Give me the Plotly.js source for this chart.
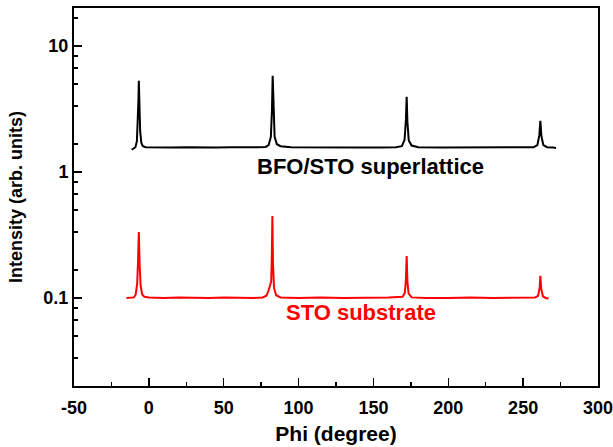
<!DOCTYPE html>
<html>
<head>
<meta charset="utf-8">
<script src="https://cdn.plot.ly/plotly-3.0.1.min.js"></script>
<style>html,body{margin:0;padding:0;background:#fff;}#chart{width:613px;height:447px;}</style>
</head>
<body>
<div id="chart"></div>
<script>
// BFO/STO superlattice phi scan
var bfoPhi = [-11.5,-10,-9,-8,-7.5,-7,-6.7,-6.3,-5.8,-5,-4,-2,5,15,25,35,45,55,65,72,78,80,81.5,82.2,82.7,83.2,84,85.5,88,95,110,125,140,155,165,169,170.8,171.7,172.2,172.7,173.6,175.5,180,195,210,225,240,252,257,259.5,260.8,261.5,262.2,263.5,266,270,272];
var bfoInt = [1.5,1.54,1.57,1.75,2.3,3.6,5.3,3.4,2.1,1.7,1.6,1.57,1.56,1.56,1.57,1.56,1.56,1.57,1.56,1.57,1.58,1.63,1.9,3.0,5.8,3.2,1.9,1.66,1.6,1.57,1.56,1.57,1.56,1.56,1.57,1.6,1.8,2.6,3.94,2.5,1.78,1.62,1.57,1.56,1.56,1.57,1.56,1.56,1.57,1.63,1.95,2.54,1.92,1.63,1.57,1.56,1.55];
// STO substrate phi scan
var stoPhi = [-15,-12,-10,-8.8,-7.8,-7.2,-6.7,-6.2,-5.5,-4.5,-3,0,10,20,30,40,50,60,70,76,78.5,80,81,81.7,82.1,82.5,82.9,83.6,85,88,100,115,130,145,160,169.5,171,171.7,172.2,172.7,173.5,175.5,185,200,215,230,245,258,260,261,261.5,262.1,263.2,265,267];
var stoInt = [0.1,0.1,0.101,0.106,0.13,0.2,0.334,0.19,0.125,0.107,0.102,0.101,0.1,0.101,0.1,0.1,0.101,0.1,0.1,0.101,0.104,0.115,0.126,0.135,0.2,0.447,0.19,0.12,0.105,0.101,0.1,0.101,0.1,0.1,0.101,0.102,0.11,0.14,0.215,0.135,0.108,0.101,0.1,0.1,0.101,0.1,0.1,0.101,0.104,0.12,0.15,0.118,0.103,0.1,0.099];
var yTickVals = [0.1, 1, 10];
var yTickText = ['0.1', '1', '10'];
var yMinorVals = [0.0333,0.05,0.0667,0.0833,0.1667,0.333,0.5,0.667,0.833,1.667,3.333,5,6.667,8.333,16.67];
var xTickVals = [-50,0,50,100,150,200,250,300];
var xTickText = ['-50','0','50','100','150','200','250','300'];
var xMinorVals = [-25,25,75,125,175,225,275];

var font = 'Liberation Sans, Arial, sans-serif';
function bold(arr) { return arr.map(function (s) { return '<b>' + s + '</b>'; }); }
var traces = [
  {x: bfoPhi, y: bfoInt, mode: 'lines', line: {color: '#000000', width: 2}, hoverinfo: 'skip'},
  {x: stoPhi, y: stoInt, mode: 'lines', line: {color: '#ff0000', width: 2}, hoverinfo: 'skip'}
];
var layout = {
  width: 613, height: 447,
  margin: {l: 74, r: 15, t: 8, b: 61},
  paper_bgcolor: '#fff', plot_bgcolor: '#fff',
  showlegend: false,
  font: {family: font, color: '#000'},
  xaxis: {
    range: [-50, 300], tickmode: 'array', tickvals: xTickVals, ticktext: bold(xTickText),
    ticks: 'inside', ticklen: 8, tickwidth: 1.5, tickcolor: '#000',
    minor: {tickmode: 'array', tickvals: xMinorVals, ticks: 'inside', ticklen: 4, tickwidth: 1.5, tickcolor: '#000', showgrid: false},
    showline: true, linewidth: 2, linecolor: '#000', mirror: true,
    showgrid: false, zeroline: false,
    ticklabelstandoff: 4, ticklabeloverflow: 'allow',
    tickfont: {family: font, size: 18, color: '#000'},
    title: {text: '<b>Phi (degree)</b>', font: {family: font, size: 21, color: '#000'}, standoff: 10}
  },
  yaxis: {
    type: 'log', range: [Math.log10(0.02), Math.log10(20)],
    tickmode: 'array', tickvals: yTickVals, ticktext: bold(yTickText),
    ticks: 'inside', ticklen: 8, tickwidth: 1.5, tickcolor: '#000',
    minor: {tickmode: 'array', tickvals: yMinorVals, ticks: 'inside', ticklen: 4, tickwidth: 1.5, tickcolor: '#000', showgrid: false},
    showline: true, linewidth: 2, linecolor: '#000', mirror: true,
    showgrid: false, zeroline: false,
    ticklabeloverflow: 'allow',
    tickfont: {family: font, size: 18, color: '#000'},
    title: {text: '<b>Intensity (arb. units)</b>', font: {family: font, size: 18, color: '#000'}, standoff: 16}
  },
  annotations: [
    {x: 148, y: Math.log10(1.1), xref: 'x', yref: 'y', text: '<b>BFO/STO superlattice</b>', showarrow: false, xanchor: 'center', yanchor: 'middle', font: {family: font, size: 22, color: '#000'}},
    {x: 142, y: Math.log10(0.077), xref: 'x', yref: 'y', text: '<b>STO substrate</b>', showarrow: false, xanchor: 'center', yanchor: 'middle', font: {family: font, size: 22, color: '#ff0000'}}
  ]
};
Plotly.newPlot('chart', traces, layout, {staticPlot: true, displayModeBar: false});
</script>
</body>
</html>
